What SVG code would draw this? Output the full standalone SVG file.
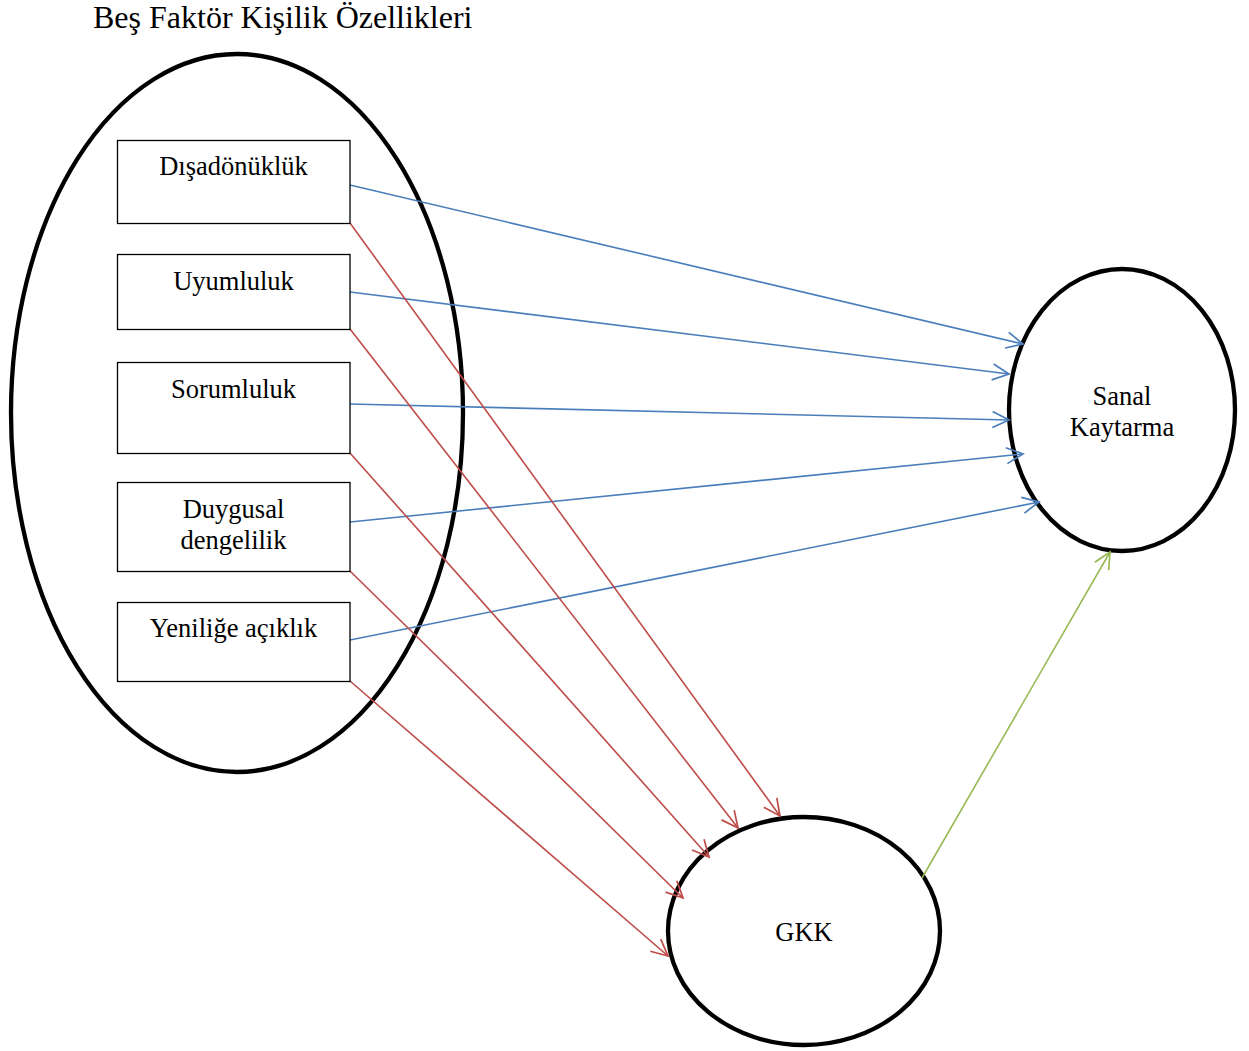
<svg xmlns="http://www.w3.org/2000/svg" width="1249" height="1051" viewBox="0 0 1249 1051">
<style>
text{font-family:"Liberation Serif","Times New Roman",serif;fill:#000}
.t{font-size:26.5px;text-anchor:middle}
.box{fill:#fff;stroke:#000;stroke-width:1.3}
.ell{fill:none;stroke:#000;stroke-width:4.3}
.b{stroke:#4a7ebb;stroke-width:1.6;fill:none;marker-end:url(#ab)}
.r{stroke:#be4b48;stroke-width:1.6;fill:none;marker-end:url(#ar)}
.g{stroke:#98b954;stroke-width:1.6;fill:none;marker-end:url(#ag)}
</style>
<defs>
<marker id="ab" markerUnits="userSpaceOnUse" markerWidth="24" markerHeight="24" viewBox="-20 -12 24 24" refX="0" refY="0" orient="auto"><path d="M-16.5,-8 L0,0 L-16.5,8" fill="none" stroke="#4a7ebb" stroke-width="1.7"/></marker>
<marker id="ar" markerUnits="userSpaceOnUse" markerWidth="24" markerHeight="24" viewBox="-20 -12 24 24" refX="0" refY="0" orient="auto"><path d="M-16.5,-8 L0,0 L-16.5,8" fill="none" stroke="#be4b48" stroke-width="1.7"/></marker>
<marker id="ag" markerUnits="userSpaceOnUse" markerWidth="24" markerHeight="24" viewBox="-20 -12 24 24" refX="0" refY="0" orient="auto"><path d="M-16.5,-8 L0,0 L-16.5,8" fill="none" stroke="#98b954" stroke-width="1.7"/></marker>
</defs>
<rect width="1249" height="1051" fill="#fff"/>
<text x="93" y="28" style="font-size:32px">Beş Faktör Kişilik Özellikleri</text>
<g id="big-five"><ellipse class="ell" cx="237" cy="413" rx="226" ry="359"/></g>
<g id="sanal-kaytarma"><ellipse class="ell" cx="1122" cy="410" rx="113" ry="141"/><text class="t" x="1122" y="405">Sanal</text><text class="t" x="1122" y="436">Kaytarma</text></g>
<g id="gkk"><ellipse class="ell" cx="804" cy="931" rx="136" ry="114"/><text class="t" x="804" y="941">GKK</text></g>
<g id="connectors">
<line class="b" x1="350" y1="185" x2="1023" y2="344"/>
<line class="b" x1="350" y1="292" x2="1009" y2="374"/>
<line class="b" x1="350" y1="404" x2="1009" y2="420"/>
<line class="b" x1="350" y1="522" x2="1023" y2="454"/>
<line class="b" x1="350" y1="640" x2="1039" y2="502"/>
<line class="r" x1="350" y1="223" x2="780" y2="816"/>
<line class="r" x1="350" y1="329" x2="738" y2="828"/>
<line class="r" x1="350" y1="453" x2="709" y2="857"/>
<line class="r" x1="350" y1="571" x2="683" y2="898"/>
<line class="r" x1="350" y1="681" x2="668" y2="956"/>
<line class="g" x1="922" y1="878" x2="1110" y2="552"/>
</g>
<g id="disadonukluk"><rect class="box" x="117.5" y="140.5" width="232.5" height="83"/><text class="t" x="233.5" y="175">Dışadönüklük</text></g>
<g id="uyumluluk"><rect class="box" x="117.5" y="254.5" width="232.5" height="75"/><text class="t" x="233.5" y="290">Uyumluluk</text></g>
<g id="sorumluluk"><rect class="box" x="117.5" y="362.5" width="232.5" height="91"/><text class="t" x="233.5" y="398">Sorumluluk</text></g>
<g id="duygusal"><rect class="box" x="117.5" y="482.5" width="232.5" height="89"/><text class="t" x="233.5" y="518">Duygusal</text><text class="t" x="233.5" y="549">dengelilik</text></g>
<g id="yenilige"><rect class="box" x="117.5" y="602.5" width="232.5" height="79"/><text class="t" x="233.5" y="637">Yeniliğe açıklık</text></g>
</svg>
